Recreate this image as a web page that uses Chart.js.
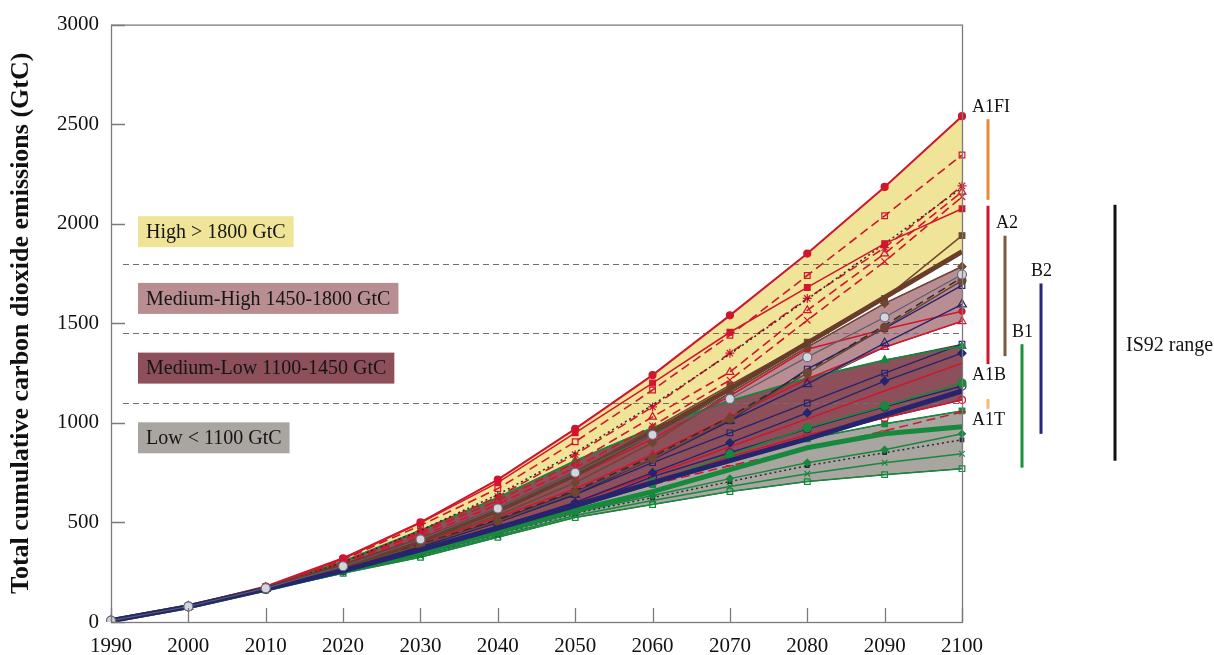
<!DOCTYPE html>
<html>
<head>
<meta charset="utf-8">
<script src="https://cdn.jsdelivr.net/npm/chart.js@4.4.0/dist/chart.umd.min.js"></script>
<style>
  html, body { margin: 0; padding: 0; background: #ffffff; }
  #wrap { width: 1214px; height: 655px; }
</style>
</head>
<body>
<div id="wrap"><canvas id="chart" width="1214" height="655"></canvas></div>
<script>
// ---- categories and reference values ----
const years = ['1990','2000','2010','2020','2030','2040','2050','2060','2070','2080','2090','2100'];
const thresholds = [1100, 1450, 1800];
const bandLabels = ['Low < 1100 GtC', 'Medium-Low 1100-1450 GtC', 'Medium-High 1450-1800 GtC', 'High > 1800 GtC'];
const bandLabelAt = [925, 1275, 1625, 1960];

// ---- cumulative emissions per scenario (GtC), one value per decade ----
// High
const a1fiMax    = [7, 80, 178, 320, 500, 715, 970, 1240, 1540, 1850, 2185, 2540];
const a1fiDashSq = [7, 79, 175, 312, 485, 670, 905, 1165, 1440, 1740, 2040, 2345];
const a1fiSq     = [7, 79, 176, 316, 498, 700, 950, 1200, 1455, 1680, 1900, 2075];
const is92Dotted = [7, 78, 172, 300, 460, 640, 850, 1090, 1345, 1620, 1900, 2180];
const a1fiStar   = [7, 78, 172, 300, 455, 630, 840, 1080, 1350, 1625, 1880, 2190];
const a1fiTri    = [7, 77, 170, 295, 445, 610, 800, 1030, 1255, 1565, 1850, 2160];
const a1fiX      = [7, 77, 168, 288, 430, 590, 775, 985, 1215, 1515, 1810, 2135];
const a2Sq       = [7, 77, 168, 282, 415, 570, 755, 970, 1190, 1405, 1625, 1940];
const a2Marker   = [7, 77, 167, 280, 410, 560, 740, 950, 1170, 1400, 1630, 1860];
// Medium-High
const a2Dia      = [7, 77, 168, 280, 400, 535, 700, 900, 1150, 1380, 1600, 1785];
const a1Gray     = [7, 78, 170, 280, 415, 570, 750, 940, 1120, 1330, 1530, 1745];
const a2Circ     = [7, 76, 166, 272, 385, 505, 650, 820, 1020, 1250, 1480, 1715];
const b2HollowSq = [7, 77, 167, 272, 385, 510, 655, 815, 1010, 1270, 1475, 1690];
const b2Tri      = [7, 77, 166, 268, 378, 500, 640, 820, 1010, 1195, 1400, 1595];
const a1bRed     = [7, 78, 171, 290, 415, 560, 730, 920, 1135, 1370, 1470, 1560];
const a1bTri     = [7, 77, 168, 280, 395, 525, 670, 840, 1030, 1220, 1380, 1510];
const mhDashed   = [7, 77, 168, 275, 390, 515, 660, 830, 1030, 1260, 1490, 1730];
// Medium-Low
const b1Tri      = [7, 78, 175, 305, 460, 625, 810, 975, 1110, 1225, 1315, 1385];
const b2Sq       = [7, 77, 166, 268, 378, 500, 640, 800, 950, 1100, 1250, 1395];
const b2Dia      = [7, 76, 165, 262, 365, 478, 600, 750, 900, 1050, 1210, 1350];
const a1bLow     = [7, 76, 166, 265, 368, 480, 600, 740, 880, 1020, 1160, 1300];
const b1Circ     = [7, 77, 166, 262, 360, 465, 575, 700, 840, 975, 1085, 1200];
const b2Circ     = [7, 76, 165, 260, 358, 465, 580, 730, 850, 970, 1080, 1185];
const b2Marker   = [7, 77, 165, 258, 362, 472, 585, 700, 810, 920, 1040, 1160];
const a1bCirc    = [7, 77, 166, 262, 358, 460, 575, 700, 830, 940, 1025, 1115];
// Low
const b1Sq       = [7, 77, 165, 260, 355, 460, 575, 690, 820, 920, 995, 1060];
const a1tDash    = [7, 77, 166, 262, 362, 470, 580, 690, 785, 870, 960, 1055];
const b1Marker   = [7, 76, 164, 256, 348, 452, 560, 655, 765, 875, 945, 980];
const b1Dia      = [7, 76, 163, 252, 342, 445, 550, 635, 720, 800, 865, 945];
const lowDotted  = [7, 76, 162, 250, 338, 440, 545, 625, 705, 785, 850, 915];
const b1X        = [7, 75, 161, 248, 332, 432, 535, 610, 680, 745, 800, 845];
const b1Min      = [7, 75, 160, 245, 325, 425, 525, 590, 655, 705, 740, 770];

// ---- 2100 ranges per scenario family ----
const rangeNames = ['A1FI', 'A1B', 'A1T', 'A2', 'B1', 'B2', 'IS92 range'];
const rangeLow   = [2120, 1295, 1070, 1335, 775, 945, 810];
const rangeHigh  = [2525, 2090, 1120, 1940, 1395, 1700, 2095];

// ---- styles ----
const RED = '#d2152f', NAVY = '#24246f', GREEN = '#16893c', BROWN = '#6f4632', DARK = '#2b2b2b';
const SERIF = '"Liberation Serif", "Times New Roman", serif';

// first entry is drawn on top
const lineStyles = [
  { data: a1Gray,     color: '#5d5d6a', width: 1.2, point: 'circle', r: 4.5, bg: '#d3d7d9', pb: '#6a6a86' },
  { data: b2Marker,   color: NAVY,  width: 5 },
  { data: b1Marker,   color: GREEN, width: 5 },
  { data: a2Marker,   color: '#6a3c2b', width: 5 },
  { data: a1fiMax,    color: RED,   width: 2,   point: 'circle', r: 3.5, bg: RED },
  { data: a1fiDashSq, color: RED,   width: 1.6, dash: [9, 5], point: 'rect', r: 4, bg: 'rgba(0,0,0,0)' },
  { data: a1fiSq,     color: RED,   width: 1.5, point: 'rect', r: 4, bg: RED },
  { data: is92Dotted, color: DARK,  width: 1.5, dash: [2, 3] },
  { data: a1fiStar,   color: RED,   width: 1.6, dash: [9, 5], point: 'star', r: 4.5, bg: RED },
  { data: a1fiTri,    color: RED,   width: 1.6, dash: [9, 5], point: 'triangle', r: 4.5, bg: 'rgba(0,0,0,0)' },
  { data: a1fiX,      color: RED,   width: 1.6, dash: [9, 5], point: 'crossRot', r: 4.5, bg: RED },
  { data: a2Sq,       color: BROWN, width: 1.5, point: 'rect', r: 4, bg: BROWN },
  { data: a2Dia,      color: BROWN, width: 1.5, point: 'rectRot', r: 4, bg: BROWN },
  { data: a2Circ,     color: BROWN, width: 1.5, point: 'circle', r: 4, bg: BROWN },
  { data: mhDashed,   color: DARK,  width: 1.4, dash: [8, 5] },
  { data: b2HollowSq, color: NAVY,  width: 1.4, point: 'rect', r: 4, bg: 'rgba(0,0,0,0)' },
  { data: b2Tri,      color: NAVY,  width: 1.4, point: 'triangle', r: 5, bg: 'rgba(0,0,0,0)' },
  { data: a1bRed,     color: RED,   width: 1.5, point: 'circle', r: 3, bg: RED },
  { data: a1bTri,     color: RED,   width: 1.5, point: 'triangle', r: 4.5, bg: 'rgba(0,0,0,0)' },
  { data: b1Tri,      color: GREEN, width: 1.8, point: 'triangle', r: 4.5, bg: GREEN },
  { data: b2Sq,       color: NAVY,  width: 1.4, point: 'rect', r: 4, bg: 'rgba(0,0,0,0)' },
  { data: b2Dia,      color: NAVY,  width: 1.4, point: 'rectRot', r: 4, bg: NAVY },
  { data: a1bLow,     color: RED,   width: 1.5 },
  { data: b1Circ,     color: GREEN, width: 1.5, point: 'circle', r: 4, bg: GREEN },
  { data: b2Circ,     color: NAVY,  width: 1.4, point: 'circle', r: 4, bg: 'rgba(0,0,0,0)' },
  { data: a1bCirc,    color: RED,   width: 1.5, point: 'circle', r: 3.5, bg: 'rgba(0,0,0,0)' },
  { data: a1tDash,    color: RED,   width: 1.5, dash: [9, 5], point: 'line', r: 4, bg: RED },
  { data: b1Sq,       color: GREEN, width: 1.5, point: 'rect', r: 4, bg: GREEN },
  { data: b1Dia,      color: GREEN, width: 1.5, point: 'rectRot', r: 3.5, bg: GREEN },
  { data: lowDotted,  color: DARK,  width: 1.5, dash: [2, 3], point: 'rect', r: 2.5, bg: NAVY },
  { data: b1X,        color: GREEN, width: 1.5, point: 'crossRot', r: 4, bg: GREEN },
  { data: b1Min,      color: GREEN, width: 1.5, point: 'rect', r: 4, bg: 'rgba(0,0,0,0)' }
];

const bandColors = ['#a9a5a1', '#8d4f59', '#b98e93', '#efe497'];
const rangeStyles = [
  { color: '#e98a3b', dx: 26,  at: 'above', lx: -16 },
  { color: '#cf1530', dx: 26,  at: 'below', lx: -16 },
  { color: '#f6b97c', dx: 26,  at: 'below', lx: -16 },
  { color: '#7d5a3c', dx: 43,  at: 'above', lx: -9 },
  { color: '#19913f', dx: 60,  at: 'above', lx: -10 },
  { color: '#262673', dx: 79,  at: 'above', lx: -10 },
  { color: '#111111', dx: 153, at: 'right', lx: 11 }
];

// ---- datasets ----
const datasets = lineStyles.map(s => ({
  data: s.data,
  borderColor: s.color,
  borderWidth: s.width,
  borderDash: s.dash || [],
  pointStyle: s.point || 'circle',
  pointRadius: s.point ? s.r : 0,
  pointBackgroundColor: s.bg || s.color,
  pointBorderColor: s.pb || s.color,
  pointBorderWidth: 1.2,
  fill: false,
  tension: 0,
  order: 0
}));

// group scenarios by their 2100 total and build each group's envelope
const groups = [[], [], [], []];
lineStyles.forEach(s => {
  const last = s.data[s.data.length - 1];
  groups[thresholds.filter(t => last > t).length].push(s.data);
});
let lastBandIndex = -1;
groups.forEach((g, k) => {
  const upper = years.map((_, i) => Math.max(...g.map(d => d[i])));
  const lower = years.map((_, i) => Math.min(...g.map(d => d[i])));
  const base = 10 * (k + 1);
  datasets.push({
    data: upper, fill: '+1', backgroundColor: bandColors[k],
    borderColor: 'rgba(45,40,40,0.85)', borderWidth: 1, pointRadius: 0, tension: 0, order: base + 1
  });
  datasets.push({
    data: lower, fill: false,
    borderColor: 'rgba(45,40,40,0.85)', borderWidth: 1, pointRadius: 0, tension: 0, order: base
  });
  if (k === 0) lastBandIndex = datasets.length - 1;
});

// ---- decorations: thresholds, frame, ticks, ranges, labels ----
const deco = {
  id: 'deco',
  afterDatasetDraw(chart, args) {
    if (args.index !== lastBandIndex) return;
    const { ctx, chartArea: a, scales: { y } } = chart;
    ctx.save();
    ctx.strokeStyle = '#707070';
    ctx.lineWidth = 1.2;
    ctx.setLineDash([6, 4]);
    thresholds.forEach(v => {
      const py = Math.round(y.getPixelForValue(v)) + 0.5;
      ctx.beginPath();
      ctx.moveTo(a.left + 12, py);
      ctx.lineTo(a.right, py);
      ctx.stroke();
    });
    ctx.restore();
  },
  afterDatasetsDraw(chart) {
    const { ctx, chartArea: a, scales: { x, y } } = chart;
    ctx.save();
    ctx.strokeStyle = '#7b7b7b';
    ctx.lineWidth = 1.3;
    ctx.strokeRect(a.left + 0.5, a.top + 0.5, a.right - a.left, a.bottom - a.top);
    ctx.beginPath();
    y.ticks.forEach(t => {
      const py = Math.round(y.getPixelForValue(t.value)) + 0.5;
      ctx.moveTo(a.left, py); ctx.lineTo(a.left + 14, py);
    });
    x.ticks.forEach((t, i) => {
      const px = Math.round(x.getPixelForTick(i)) + 0.5;
      ctx.moveTo(px, a.bottom); ctx.lineTo(px, a.bottom - 14);
    });
    ctx.stroke();
    ctx.restore();
  },
  afterDraw(chart) {
    const { ctx, chartArea: a, scales: { y } } = chart;
    ctx.save();
    // range bars at the right
    ctx.textBaseline = 'middle';
    rangeNames.forEach((name, i) => {
      const st = rangeStyles[i];
      const bx = a.right + st.dx;
      const top = y.getPixelForValue(rangeHigh[i]);
      const bot = y.getPixelForValue(rangeLow[i]);
      ctx.fillStyle = st.color;
      ctx.fillRect(bx - 1.5, top, 3, bot - top);
      ctx.fillStyle = '#111';
      ctx.textAlign = 'left';
      if (st.at === 'above') {
        ctx.font = '18px ' + SERIF;
        ctx.fillText(name, bx + st.lx, top - 12);
      } else if (st.at === 'below') {
        ctx.font = '18px ' + SERIF;
        ctx.fillText(name, bx + st.lx, bot + 11);
      } else {
        ctx.font = '20px ' + SERIF;
        ctx.fillText(name, bx + st.lx, (top + bot) / 2 + 13);
      }
    });
    // category boxes
    ctx.font = '20px ' + SERIF;
    bandLabels.forEach((txt, k) => {
      const cy = y.getPixelForValue(bandLabelAt[k]);
      const w = ctx.measureText(txt).width + 16;
      const bx = a.left + 27;
      ctx.fillStyle = bandColors[k];
      ctx.fillRect(bx, cy - 15.5, w, 31);
      ctx.fillStyle = '#151515';
      ctx.textAlign = 'left';
      ctx.fillText(txt, bx + 8, cy + 1);
    });
    ctx.restore();
  }
};

new Chart(document.getElementById('chart'), {
  type: 'line',
  data: { labels: years, datasets },
  options: {
    responsive: false,
    animation: false,
    layout: { padding: { top: 22, right: 252, bottom: 0, left: 0 } },
    plugins: { legend: { display: false }, tooltip: { enabled: false } },
    scales: {
      x: {
        grid: { display: false, drawTicks: false },
        border: { display: false },
        ticks: { color: '#111', font: { family: SERIF, size: 21 }, padding: 12, maxRotation: 0, autoSkip: false },
        afterFit(s) { s.height = 33; }
      },
      y: {
        min: 0, max: 3000,
        grid: { display: false, drawTicks: false },
        border: { display: false },
        ticks: {
          stepSize: 500, color: '#111', font: { family: SERIF, size: 21 }, padding: 12,
          callback: v => String(v)
        },
        title: {
          display: true,
          text: 'Total cumulative carbon dioxide emissions (GtC)',
          color: '#111',
          font: { family: SERIF, size: 26, weight: 'bold' },
          padding: { top: 6, bottom: 0 }
        },
        afterFit(s) { s.width = 111; }
      }
    }
  },
  plugins: [deco]
});
</script>
</body>
</html>
